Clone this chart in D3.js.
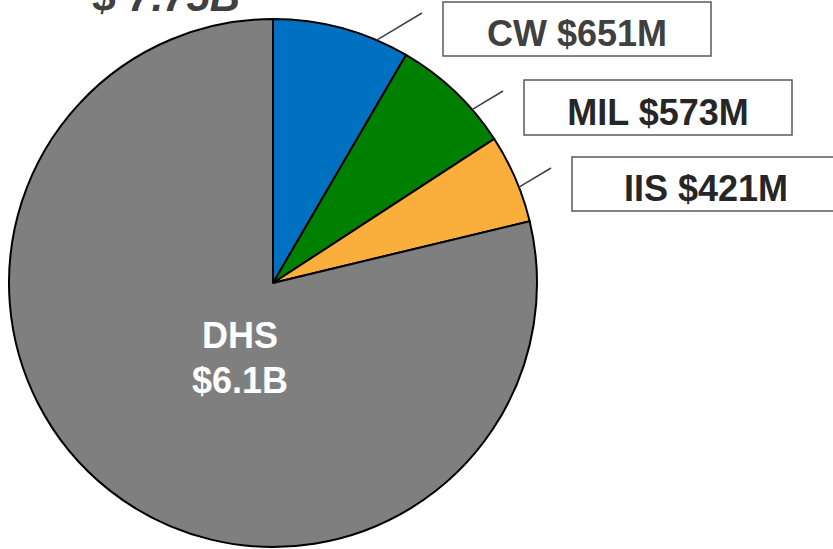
<!DOCTYPE html>
<html>
<head>
<meta charset="utf-8">
<script src="https://cdn.jsdelivr.net/npm/d3@7"></script>
<style>
  body { margin: 0; background: #fff; }
  svg { display: block; font-family: "Liberation Sans", Arial, sans-serif; }
</style>
</head>
<body>
<script>
// segments, clockwise from 12 o'clock (values in $M)
var names = ["CW", "MIL", "IIS", "DHS"];
var values = [651, 573, 421, 6100];
var labels = ["CW $651M", "MIL $573M", "IIS $421M", "DHS\n$6.1B"];
var colors = ["#0070C0", "#008000", "#FAAE3C", "#7F7F7F"];
var total = "$ 7.75B";

var width = 833, height = 549;
var cx = 273, cy = 283, r = 264;

var svg = d3.select("body").append("svg")
    .attr("width", width)
    .attr("height", height);

// title (sits partly above the top edge, as in the original)
svg.append("text")
    .attr("x", 93)
    .attr("y", 11)
    .attr("font-size", 42)
    .attr("font-weight", "bold")
    .attr("font-style", "italic")
    .attr("fill", "#404040")
    .text(total);

var pie = d3.pie().sort(null).value(d => d);
var arcs = pie(values);
var arc = d3.arc().innerRadius(0).outerRadius(r);

var g = svg.append("g").attr("transform", "translate(" + cx + "," + cy + ")");

g.selectAll("path")
    .data(arcs)
    .join("path")
    .attr("d", arc)
    .attr("fill", (d, i) => colors[i])
    .attr("stroke", "#000")
    .attr("stroke-width", 2)
    .attr("stroke-linejoin", "round");

// big slice label inside
var dhs = g.append("text")
    .attr("text-anchor", "middle")
    .attr("font-size", 36)
    .attr("font-weight", "bold")
    .attr("fill", "#fff");
labels[3].split("\n").forEach(function(s, k) {
    dhs.append("tspan").attr("x", -33).attr("y", 65 + k * 45).text(s);
});

// boxed callouts for small slices
var boxes = [
    {x: 443, y: 2, w: 268, h: 54},
    {x: 524, y: 80, w: 268, h: 55},
    {x: 572, y: 157, w: 268, h: 54}
];

// leader line: from a point left of the box, heading down-left until it meets the pie
var dir = [-Math.cos(31 * Math.PI / 180), Math.sin(31 * Math.PI / 180)];
function hitCircle(px, py) {
    var ox = px - cx, oy = py - cy;
    var b = ox * dir[0] + oy * dir[1];
    var c = ox * ox + oy * oy - r * r;
    var t = -b - Math.sqrt(b * b - c);
    return [px + t * dir[0], py + t * dir[1]];
}

boxes.forEach(function(b, i) {
    var ex = b.x - 21, ey = b.y + 11;
    var s = hitCircle(ex, ey);
    svg.append("line")
        .attr("x1", s[0]).attr("y1", s[1])
        .attr("x2", ex).attr("y2", ey)
        .attr("stroke", "#404040")
        .attr("stroke-width", 1.5);

    svg.append("rect")
        .attr("x", b.x).attr("y", b.y)
        .attr("width", b.w).attr("height", b.h)
        .attr("fill", "#fff")
        .attr("stroke", "#595959")
        .attr("stroke-width", 1.5);

    svg.append("text")
        .attr("x", b.x + b.w / 2)
        .attr("y", b.y + b.h / 2 + 17)
        .attr("text-anchor", "middle")
        .attr("font-size", 36)
        .attr("font-weight", "bold")
        .attr("fill", i == 0 ? "#404040" : "#262626")
        .text(labels[i]);
});
</script>
</body>
</html>
